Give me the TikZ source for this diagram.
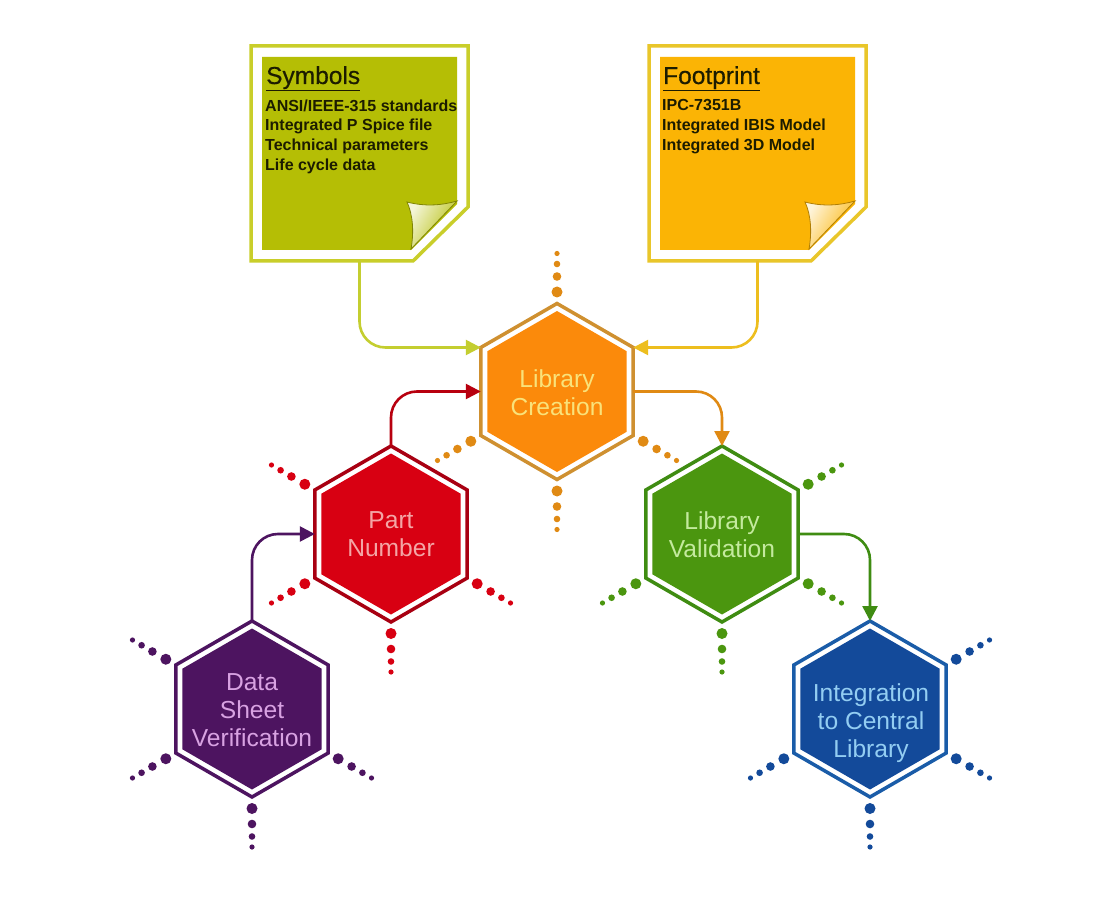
\documentclass[tikz,border=0pt]{standalone}
\usepackage{fontspec}
\setmainfont{Liberation Sans}
\newfontfamily\titlefont[FakeBold=0.5]{Liberation Sans}
\usetikzlibrary{shapes.geometric,arrows.meta,calc}
\definecolor{symfill}{HTML}{B5BE05}
\definecolor{symedge}{HTML}{C9CE2A}
\definecolor{symarrow}{HTML}{C4CE30}
\definecolor{fpfill}{HTML}{FBB405}
\definecolor{fpedge}{HTML}{E9C62A}
\definecolor{fparrow}{HTML}{EDBE1E}
\definecolor{libfill}{HTML}{FB8A0B}
\definecolor{libedge}{HTML}{CF9030}
\definecolor{libtext}{HTML}{F9E27A}
\definecolor{libdot}{HTML}{E08A14}
\definecolor{partfill}{HTML}{D80012}
\definecolor{partedge}{HTML}{A80012}
\definecolor{parttext}{HTML}{F4A5A5}
\definecolor{valfill}{HTML}{4B960F}
\definecolor{valedge}{HTML}{3F8C12}
\definecolor{valtext}{HTML}{C4EA9E}
\definecolor{datafill}{HTML}{4D1460}
\definecolor{datatext}{HTML}{D8A2E2}
\definecolor{intfill}{HTML}{134A9A}
\definecolor{intedge}{HTML}{1A5CA8}
\definecolor{inttext}{HTML}{93CDF2}
\definecolor{notetext}{HTML}{1C1C00}
\tikzset{
  hexouter/.style={regular polygon,regular polygon sides=6,regular polygon rotate=-30,minimum size=176pt,inner sep=0pt,outer sep=0pt,line width=3.5pt,fill=white},
  hexinner/.style={regular polygon,regular polygon sides=6,regular polygon rotate=-30,minimum size=161pt,inner sep=0pt,outer sep=0pt},
  hextext/.style={inner sep=0pt,align=center,font=\fontsize{24.6}{28}\selectfont},
  flow/.style={line width=2.6pt,rounded corners=26pt,-{Triangle[length=15pt,width=15pt]}},
  notearea/.style={rectangle,minimum width=217pt,minimum height=215pt,inner sep=0pt,outer sep=0pt},
  notetitle/.style={anchor=base west,inner sep=0pt,text=notetext,font=\titlefont\fontsize{24.5}{28}\selectfont},
  notebody/.style={anchor=north west,inner sep=0pt,align=left,text=notetext,font=\bfseries\fontsize{16}{19.7}\selectfont},
}
\newcommand{\hexdots}[4]{% colour, x, y, angles
  \foreach \ang in {#4}{
    \fill[#1] ($(#2,#3)+(\ang:99.5pt)$) circle (5.5pt);
    \fill[#1] ($(#2,#3)+(\ang:115pt)$) circle (4.3pt);
    \fill[#1] ($(#2,#3)+(\ang:127.5pt)$) circle (3.3pt);
    \fill[#1] ($(#2,#3)+(\ang:138pt)$) circle (2.6pt);
  }
}
\newcommand{\notebox}[4]{% x, fill, edge, fold edge
  \draw[#3,line width=3.5pt,fill=white,line join=miter] (#1,46) -- ++(217,0) -- ++(0,161) -- ++(-55,54) -- (#1,261) -- cycle;
  \fill[#2] ({#1+11},57) -- ({#1+206},57) -- ({#1+206},204) -- ({#1+160},250) -- ({#1+11},250) -- cycle;
  \shade[left color=#2!15!white,right color=#2,draw=#4,line width=0.8pt,shading angle=60]
    ({#1+156},202) .. controls ({#1+175},207) and ({#1+192},205) .. ({#1+206},201)
    -- ({#1+160},249) .. controls ({#1+163},232) and ({#1+162},215) .. ({#1+156},202) -- cycle;
}
\begin{document}
\begin{tikzpicture}[x=1pt,y=-1pt]
\useasboundingbox (0,0) rectangle (1100,917);
\fill[white] (0,0) rectangle (1100,917);

% sticky notes
\notebox{251}{symfill}{symedge}{symfill!70!black}
\notebox{649}{fpfill}{fpedge}{fpfill!70!black}
\node[notearea] (sym) at (359.5,153.5) {};
\node[notearea] (fp) at (757.5,153.5) {};
\node[notetitle] (symtitle) at (266,84) {\underline{Symbols}};
\node[notetitle] (fptitle) at (663,84) {\underline{Footprint}};
\node[notebody] (symbody) at (265,99.5) {ANSI/IEEE-315 standards\\Integrated P Spice file\\Technical parameters\\Life cycle data};
\node[notebody] (fpbody) at (662,99.5) {IPC-7351B\\Integrated IBIS Model\\Integrated 3D Model};

% dotted rays
\hexdots{libdot}{557}{391.5}{90,270,210,330}
\hexdots{partfill}{391}{534}{150,210,270,330}
\hexdots{valfill}{722}{534}{30,210,270,330}
\hexdots{datafill}{252}{709}{150,210,270,330}
\hexdots{intfill}{870}{709}{30,210,270,330}

% hexagons
\node[hexouter,draw=libedge] (lib) at (557,391.5) {};
\node[hexinner,fill=libfill] (libi) at (lib) {};
\node[hextext,text=libtext] (libt) at (557,393) {Library\\Creation};
\node[hexouter,draw=partedge] (part) at (391,534) {};
\node[hexinner,fill=partfill] (parti) at (part) {};
\node[hextext,text=parttext] (partt) at (391,534.5) {Part\\Number};
\node[hexouter,draw=valedge] (val) at (722,534) {};
\node[hexinner,fill=valfill] (vali) at (val) {};
\node[hextext,text=valtext] (valt) at (722,534.5) {Library\\Validation};
\node[hexouter,draw=datafill] (data) at (252,709) {};
\node[hexinner,fill=datafill] (datai) at (data) {};
\node[hextext,text=datatext] (datat) at (252,710) {Data\\Sheet\\Verification};
\node[hexouter,draw=intedge] (int) at (870,709) {};
\node[hexinner,fill=intfill] (inti) at (int) {};
\node[hextext,text=inttext] (intt) at (871,723) {Integration\\to Central\\Library};

% connectors
\draw[flow,symarrow] (sym.south) |- (lib.corner 3);
\draw[flow,fparrow] (fp.south) |- (lib.corner 1);
\draw[flow,partfill!85!black] (part.corner 2) |- (lib.west);
\draw[flow,datafill] (data.corner 2) |- (part.west);
\draw[flow,libdot] (lib.east) -| (val.corner 2);
\draw[flow,valedge] (val.east) -| (int.corner 2);
\end{tikzpicture}
\end{document}
